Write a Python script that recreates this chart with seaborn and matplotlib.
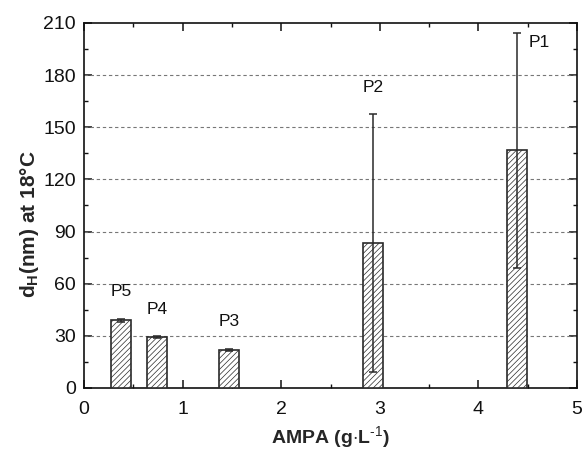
import numpy as np
import pandas as pd
import matplotlib
matplotlib.use("Agg")
import matplotlib.pyplot as plt
import seaborn as sns
from matplotlib.ticker import MultipleLocator

# ---- data ----
samples = ["P5", "P4", "P3", "P2", "P1"]
ampa = [0.375, 0.74, 1.47, 2.93, 4.39]
dh = [39.0, 29.3, 22.0, 83.2, 136.7]
dh_err = [0.8, 0.6, 0.5, 74.2, 67.7]
label_x = [0.375, 0.745, 1.475, 2.93, 4.62]
label_y = [55.3, 45.4, 38.0, 173.0, 198.5]

sns.set_theme(style="ticks")
plt.rcParams['font.family'] = ['Liberation Sans', 'DejaVu Sans']
plt.rcParams['mathtext.fontset'] = 'custom'
plt.rcParams['mathtext.rm'] = 'Liberation Sans'
plt.rcParams['mathtext.bf'] = 'Liberation Sans:bold'
plt.rcParams['hatch.color'] = '#ababab'
plt.rcParams['hatch.linewidth'] = 0.5

df = pd.DataFrame({"ampa": ampa, "dh": dh, "sample": samples})

fig = plt.figure(figsize=(5.83, 4.55), dpi=100)
ax = fig.add_axes([84/583, 67/455, (577-84)/583, (388-23)/455])

min_gap = np.min(np.diff(sorted(ampa)))
sns.barplot(data=df, x="ampa", y="dh", native_scale=True, width=0.2 / min_gap,
            color="white", edgecolor="#2a2a2a", linewidth=1.2, errorbar=None,
            ax=ax, zorder=3)
for p in ax.patches:
    p.set_hatch('//////')
    p.set_facecolor('white')

ax.errorbar(ampa, dh, yerr=dh_err, fmt='none', ecolor='#2a2a2a', elinewidth=1.1,
            capsize=2.8, capthick=1.1, zorder=4)

for s, lx, ly in zip(samples, label_x, label_y):
    ax.text(lx, ly, s, ha='center', va='center', fontsize=12.5, color='#111111', zorder=5)

ax.set_xlim(0, 5)
ax.set_ylim(0, 210)
ax.xaxis.set_major_locator(MultipleLocator(1))
ax.xaxis.set_minor_locator(MultipleLocator(0.5))
ax.yaxis.set_major_locator(MultipleLocator(30))
ax.yaxis.set_minor_locator(MultipleLocator(15))
ax.set_xticks([0, 1, 2, 3, 4, 5])
ax.set_xticklabels(['0', '1', '2', '3', '4', '5'])

ax.tick_params(axis='both', which='both', direction='in', top=True, right=True,
               bottom=True, left=True, colors='#111111')
ax.tick_params(axis='both', which='major', length=5.5, width=1.1, labelsize=14)
ax.tick_params(axis='both', which='minor', length=3, width=1.0)
ax.tick_params(axis='x', which='major', pad=9)
ax.tick_params(axis='y', which='major', pad=6)

for y in [30, 60, 90, 120, 150, 180]:
    ax.axhline(y, color='#777777', linestyle=(0, (3, 2.5)), linewidth=0.8, zorder=1)

for sp in ['left', 'bottom', 'top', 'right']:
    ax.spines[sp].set_visible(True)
    ax.spines[sp].set_linewidth(1.2)
    ax.spines[sp].set_color('#111111')

ax.set_xlabel(r'AMPA (g$\cdot$L$^{\text{-1}}$)', fontsize=14, fontweight='bold', labelpad=5)
ax.set_ylabel(r'd$_{\mathbf{H}}$(nm) at 18°C', fontsize=15, fontweight='bold')
ax.yaxis.set_label_coords(-0.088, 0.45)

fig.savefig("out.png", dpi=100)
